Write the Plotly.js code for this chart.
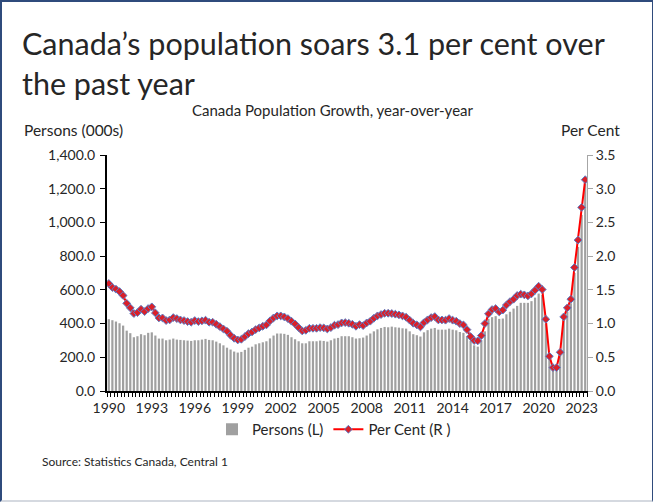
<!DOCTYPE html>
<html><head><meta charset="utf-8">
<script src="https://cdn.plot.ly/plotly-3.0.1.min.js"></script>
<style>
html,body{margin:0;padding:0;background:#fff;}
#wrap{position:relative;width:653px;height:504px;overflow:hidden;}
#chart{width:653px;height:504px;}
#frame{position:absolute;left:0;top:0;width:653px;height:502px;box-sizing:border-box;border-top:2px solid #2F4B7C;border-left:2px solid #2F4B7C;border-right:1px solid #2F4B7C;border-bottom:2px solid #D5D9E0;pointer-events:none;}
</style></head>
<body><div id="wrap"><div id="chart"></div><div id="frame"></div></div>
<script>
// Quarterly, 1990 Q1 .. 2023 Q2
const startYear = 1990;
const nQuarters = 134;
const yearLabels = ['1990','1993','1996','1999','2002','2005','2008','2011','2014','2017','2020','2023'];

// Persons (000s), year-over-year change
const persons = [
  426,420,412,402,388,358,343,319,325,337,331,345,348,329,311,311,301,305,311,305,303,301,299,
  297,301,301,305,309,303,301,293,283,271,257,246,234,228,232,244,257,263,277,283,289,295,312,
  329,341,341,339,333,319,307,295,283,283,295,295,295,299,297,293,301,311,315,325,325,325,
  319,311,313,317,329,341,354,366,374,380,378,382,378,376,372,370,354,337,331,323,348,361,
  370,374,364,364,364,370,364,360,350,345,325,297,271,263,301,354,428,438,444,428,
  430,455,470,489,505,523,523,523,533,554,578,570,400,195,132,132,218,420,470,520,700,855,1045,1240
];

// Per cent, year-over-year growth
const perCent = [
  1.594,1.535,1.51,1.475,1.416,1.30,1.233,1.149,1.163,1.213,1.178,1.223,1.248,1.158,1.084,1.084,1.045,1.054,1.089,1.074,1.054,1.045,1.03,
  1.02,1.045,1.03,1.04,1.05,1.02,1.02,0.99,0.955,0.92,0.886,0.827,0.782,0.757,0.767,0.807,0.851,0.876,0.911,0.936,0.96,0.98,1.04,
  1.084,1.114,1.114,1.099,1.074,1.035,0.995,0.94,0.891,0.90,0.93,0.93,0.93,0.94,0.936,0.92,0.94,0.975,0.985,1.01,1.015,1.005,
  0.99,0.96,0.985,0.97,1.01,1.035,1.079,1.114,1.134,1.153,1.153,1.149,1.139,1.129,1.114,1.094,1.05,1.005,0.98,0.95,1.015,1.055,
  1.089,1.104,1.054,1.054,1.05,1.074,1.05,1.035,1.0,0.98,0.91,0.807,0.748,0.743,0.822,1.0,1.144,1.208,1.223,1.173,
  1.20,1.275,1.325,1.361,1.416,1.436,1.426,1.411,1.441,1.495,1.554,1.505,1.064,0.515,0.347,0.347,0.574,1.099,1.233,1.361,1.832,2.238,2.723,3.134
];

const quarters = [];
for (let i = 0; i < nQuarters; i++) {
  quarters.push((startYear + Math.floor(i / 4)) + ' Q' + (i % 4 + 1));
}
const tickText = quarters.map(q => {
  const y = q.slice(0, 4);
  return (q.endsWith('Q1') && yearLabels.includes(y)) ? y : '';
});

const FONT = 'Lato, "Open Sans", sans-serif';
const TXT = '#262626';

const traces = [
  {
    type: 'bar', x: quarters, y: persons, name: 'Persons (L)',
    marker: {color: '#A0A0A0'}, yaxis: 'y'
  },
  {
    type: 'scatter', mode: 'lines+markers', x: quarters, y: perCent, name: 'Per Cent (R )',
    yaxis: 'y2',
    line: {color: '#FF0000', width: 2},
    marker: {symbol: 'diamond', size: 6, color: '#D9202A', line: {color: '#5B7FC7', width: 1}}
  }
];

const layout = {
  width: 653, height: 504,
  margin: {l: 107, r: 66, t: 155, b: 113, autoexpand: false},
  paper_bgcolor: '#fff', plot_bgcolor: '#fff',
  font: {family: FONT, size: 14, color: TXT},
  showlegend: true,
  bargap: 0.38,
  title: {
    text: 'Canada’s population soars 3.1 per cent over<br>the past year',
    font: {family: FONT, size: 30.5, color: TXT},
    xref: 'container', yref: 'container',
    x: 22 / 653, xanchor: 'left',
    y: 1 - 55 / 504, yanchor: 'top'
  },
  xaxis: {
    type: 'category',
    range: [-0.5, nQuarters - 0.5],
    tickvals: quarters, ticktext: tickText,
    tickson: 'boundaries',
    ticks: 'outside', ticklen: 4, tickwidth: 1, tickcolor: '#000',
    ticklabelstandoff: 3,
    showline: true, linecolor: '#000', linewidth: 2,
    showgrid: false, zeroline: false,
    tickfont: {family: FONT, size: 14, color: TXT},
    tickangle: 0
  },
  yaxis: {
    range: [0, 1400], dtick: 200, tickformat: ',.1f',
    ticks: 'outside', ticklen: 5, tickcolor: '#000',
    ticklabelstandoff: 2,
    showline: true, linecolor: '#000', linewidth: 2,
    showgrid: false, zeroline: false,
    tickfont: {family: FONT, size: 14, color: TXT}
  },
  yaxis2: {
    overlaying: 'y', side: 'right',
    range: [0, 3.5], dtick: 0.5, tickformat: '.1f',
    ticks: 'outside', ticklen: 5, tickcolor: '#A6A6A6',
    showline: true, linecolor: '#A6A6A6', linewidth: 1,
    showgrid: false, zeroline: false,
    tickfont: {family: FONT, size: 14, color: TXT}
  },
  legend: {
    orientation: 'h',
    xref: 'container', yref: 'container',
    x: 334 / 653, xanchor: 'center',
    y: 1 - 413 / 504, yanchor: 'top',
    font: {family: FONT, size: 15, color: TXT},
    itemwidth: 30, tracegroupgap: 0
  },
  annotations: [
    {text: 'Canada Population Growth, year-over-year', xref: 'paper', yref: 'paper',
     x: (333 - 107) / 480, y: (391 - 110) / 236, xanchor: 'center', yanchor: 'middle',
     showarrow: false, font: {family: FONT, size: 15, color: TXT}},
    {text: 'Persons (000s)', xref: 'paper', yref: 'paper',
     x: (22 - 107) / 480, y: (391 - 130) / 236, xanchor: 'left', yanchor: 'middle',
     showarrow: false, font: {family: FONT, size: 15.5, color: TXT}},
    {text: 'Per Cent', xref: 'paper', yref: 'paper',
     x: (622 - 107) / 480, y: (391 - 130) / 236, xanchor: 'right', yanchor: 'middle',
     showarrow: false, font: {family: FONT, size: 15.5, color: TXT}},
    {text: 'Source: Statistics Canada, Central 1', xref: 'paper', yref: 'paper',
     x: (40 - 107) / 480, y: (391 - 461) / 236, xanchor: 'left', yanchor: 'middle',
     showarrow: false, font: {family: FONT, size: 12, color: TXT}}
  ]
};

Plotly.newPlot('chart', traces, layout, {displayModeBar: false, staticPlot: true});
</script>
</body></html>
